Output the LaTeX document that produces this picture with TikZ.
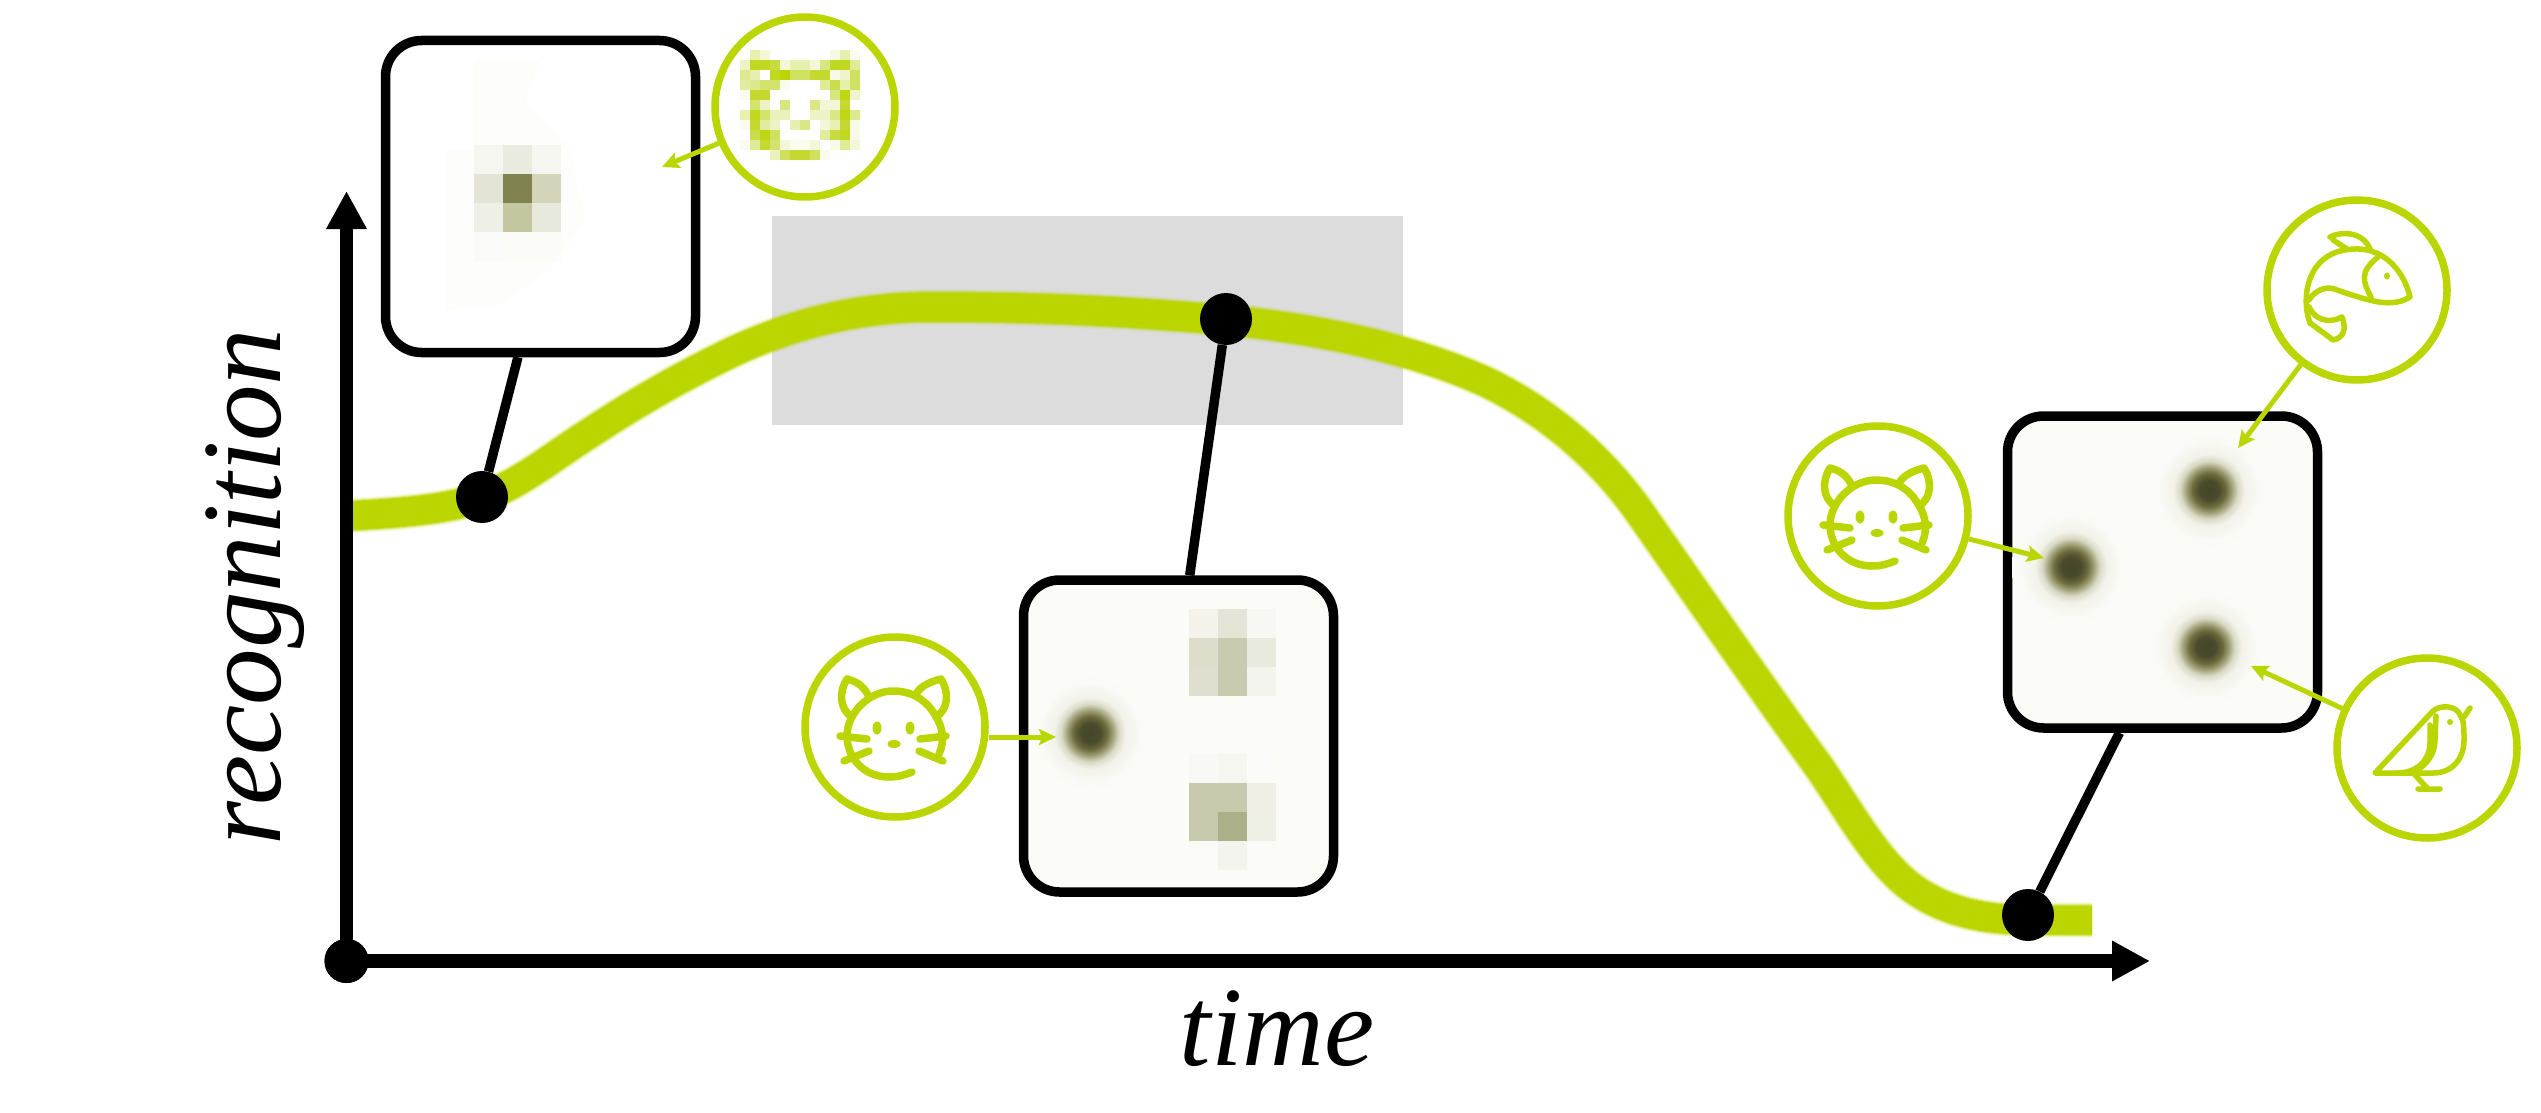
\documentclass[tikz,border=0pt]{standalone}
\usepackage{fontspec}
\setmainfont{Liberation Serif}
\usetikzlibrary{arrows.meta}
\definecolor{curvegreen}{HTML}{BBD500}
\definecolor{panelpaper}{HTML}{FBFBF8}
\definecolor{panelfaint}{HTML}{FDFDFB}
\definecolor{greybar}{HTML}{DCDCDC}
\pgfdeclareradialshading{blobshade}{\pgfpointorigin}{%
  rgb(0bp)=(0.27,0.27,0.16);
  rgb(4bp)=(0.29,0.29,0.172);
  rgb(7bp)=(0.42,0.42,0.24);
  rgb(9.5bp)=(0.63,0.63,0.47);
  rgb(12bp)=(0.85,0.85,0.77);
  rgb(15bp)=(0.95,0.95,0.92);
  rgb(21bp)=(0.98,0.98,0.965);
  rgb(25bp)=(0.984,0.984,0.973)}
\tikzset{
  panelbox/.style={draw=black, line width=9.5pt, rounded corners=36pt, fill=panelpaper,
                   minimum width=310pt, minimum height=312pt, inner sep=0pt},
  tagring/.style={draw=curvegreen, line width=7.5pt, fill=white, circle,
                  minimum size=180pt, inner sep=0pt},
  timedot/.style={fill=black, circle, minimum size=52pt, inner sep=0pt},
  stem/.style={black, line width=9.5pt},
  tagarrow/.style={curvegreen, line width=5pt, -{Stealth[length=17pt, width=16pt, inset=3pt]}},
  axisline/.style={black, line width=13.5pt, -{Triangle[length=38pt, width=38pt]}},
  iconline/.style={curvegreen, line width=7.5pt, line cap=round, line join=round},
  thinicon/.style={iconline, line width=5.5pt},
  axislabel/.style={font=\fontsize{113}{120}\selectfont\itshape, inner sep=0pt, anchor=base},
  cell/.style={fill=cellcolor},
  cat icon/.pic={
    \draw[iconline] (44,27) .. controls (50,14) and (48,0) .. (40,-12)
      .. controls (32,-26) and (18,-36) .. (-2,-36)
      .. controls (-26,-36) and (-48,-14) .. (-48,9)
      .. controls (-48,30) and (-32,50) .. (-6,50)
      .. controls (3,50) and (10,48) .. (17,45);
    \draw[iconline] (-27,-32) .. controls (-32,-42) and (-40,-46) .. (-48,-48)
      .. controls (-56,-36) and (-56,-18) .. (-43,-10);
    \draw[iconline] (21,-33) .. controls (26,-42) and (38,-46) .. (46,-48)
      .. controls (54,-36) and (54,-18) .. (41,-10);
    \fill[curvegreen] (-18,1) ellipse (4.5pt and 6.5pt) (15,1) ellipse (4.5pt and 6.5pt)
      (-1,17) ellipse (6.5pt and 4pt);
    \draw[iconline] (-55,9) -- (-28,12) (25,12) -- (51,9)
      (-26,24) -- (-51,34) (24,24) -- (48,34);
  },
  fish icon/.pic={
    \draw[thinicon] (-27,-53) .. controls (-18,-58) and (5,-60) .. (13,-41);
    \draw[thinicon] (-24,-50) -- (-10,-41);
    \draw[thinicon] (-47,33) .. controls (-56,10) and (-52,-40) .. (-2,-41)
      .. controls (30,-42) and (48,-15) .. (53,7)
      .. controls (35,18) and (15,12) .. (-20,0)
      .. controls (-30,-5) and (-42,0) .. (-48,10);
    \draw[thinicon] (21,-33) .. controls (2,-18) and (6,-8) .. (14,7);
    \draw[thinicon] (-48,17) .. controls (-42,30) and (-28,34) .. (-15,27)
      .. controls (-10,40) and (-14,48) .. (-24,50) .. controls (-32,44) and (-40,38) .. (-47,33);
    \fill[curvegreen] (30,-14) ellipse (3pt and 3.5pt);
  },
  bird icon/.pic={
    \draw[thinicon] (-52,25) -- (6,-37) .. controls (14,-44) and (30,-42) .. (33,-33)
      .. controls (37,-28) and (37,-20) .. (37,-8)
      .. controls (37,10) and (26,25) .. (6,25) -- cycle;
    \draw[thinicon] (3,-23) -- (3,-5) .. controls (3,10) and (-8,25) .. (-30,25);
    \draw[thinicon] (9,-32) -- (8,-8) .. controls (8,6) and (0,16) .. (-12,24);
    \draw[thinicon] (37,-31) -- (43,-40);
    \draw[thinicon] (-12,27) -- (1,41) (-9,41) -- (13,41);
    \fill[curvegreen] (23,-26) circle (3pt);
  }
}

\begin{document}
\begin{tikzpicture}[x=1pt, y=-1pt]
  \useasboundingbox (0,0) rectangle (2541,1113);

  % grey band behind the curve
  \fill[greybar] (772,216) rectangle (1403,425);

  % recognition curve, soft edge first
  \foreach \w/\o in {36/0.1, 33.5/0.2, 31.5/0.4, 29.5/0.7, 27.5/1}
    \draw[curvegreen, line width=\w pt, opacity=\o] (346,516)
      .. controls (400,513) and (445,510) .. (483,497)
      .. controls (520,484) and (555,455) .. (590,433)
      .. controls (640,400) and (680,378) .. (720,358)
      .. controls (780,328) and (850,307) .. (930,307)
      .. controls (1050,307) and (1130,312) .. (1226,320)
      .. controls (1330,330) and (1420,352) .. (1486,382)
      .. controls (1540,408) and (1595,450) .. (1638,510)
      .. controls (1680,570) and (1770,700) .. (1819,767)
      .. controls (1845,805) and (1870,850) .. (1900,878)
      .. controls (1935,910) and (1980,920) .. (2030,920) -- (2092,920);

  % axes
  \node[timedot, minimum size=44pt] (origin) at (346.5,961) {};
  \draw[axisline] (origin.center) -- (346.5,191);
  \draw[axisline] (origin.center) -- (2150,961);
  \node[timedot, minimum size=44pt] at (origin.center) {};
  \node[axislabel] (timelabel) at (1277,1065) {time};
  \node[axislabel, rotate=90] (recoglabel) at (280,587) {recognition};

  % dots on the curve
  \node[timedot] (dotearly) at (482,497) {};
  \node[timedot] (dotmid) at (1226,319) {};
  \node[timedot] (dotlate) at (2028,915) {};

  % panels
  \node[panelbox, fill=white] (panelearly) at (540.5,196.5) {};
  \node[panelbox] (panelmid) at (1178.5,736) {};
  \node[panelbox] (panellate) at (2162.5,572) {};

  \draw[stem] (dotearly) -- (panelearly.262);
  \draw[stem] (dotmid) -- (panelmid.86.6);
  \draw[stem] (dotlate) -- (panellate.255.3);

  % early panel: one coarse spot
  \fill[panelfaint] (474,60) -- (540,60) -- (525,100) -- (570,150) -- (585,220)
    -- (550,270) -- (500,305) -- (446,310) -- (446,150) -- (474,150) -- cycle;
  \foreach \cx/\cy/\cc in {
    0/0/F5F6F0, 1/0/E9EBDF, 2/0/F5F6F0,
    0/1/E3E4D6, 1/1/808250, 2/1/D3D4BA,
    0/2/EEEFE6, 1/2/C4C6A0, 2/2/E8E9DD,
    0/3/FAFAF8, 1/3/FBFBF8, 2/3/FBFBF8}
  {
    \definecolor{cellcolor}{HTML}{\cc}
    \fill[cell] ({474+29*\cx},{145+29*\cy}) rectangle +(29,29);
  }

  % middle panel: two coarse spots and one sharp
  \foreach \cx/\cy/\cc in {
    0/0/F3F3EC, 1/0/E4E5D6, 2/0/F7F8F3,
    0/1/DCDDCB, 1/1/C9CBAE, 2/1/E9EADE,
    0/2/DEDFCE, 1/2/C9CBAE, 2/2/F3F4EE,
    0/5/F8F8F4, 1/5/F5F6F0, 2/5/FBFBF9,
    0/6/C8CAAD, 1/6/C8CAAD, 2/6/EFEFE6,
    0/7/C8CAAD, 1/7/ADAF88, 2/7/EEEFE5,
    0/8/FAFAF7, 1/8/F3F4EE, 2/8/FAFAF7}
  {
    \definecolor{cellcolor}{HTML}{\cc}
    \fill[cell] ({1189+29*\cx},{609+29*\cy}) rectangle +(29,29);
  }
  \shade[shading=blobshade] (1090,733) circle (60pt);

  % late panel: three sharp spots
  \shade[shading=blobshade] (2209,490) circle (60pt);
  \shade[shading=blobshade] (2071,567) circle (60pt);
  \shade[shading=blobshade] (2206,647) circle (60pt);

  % tags
  \node[tagring] (tagpixel) at (805,107) {};
  \node[tagring] (tagcatmid) at (895,727) {};
  \node[tagring] (tagcatlate) at (1878,516) {};
  \node[tagring] (tagfish) at (2357,290) {};
  \node[tagring] (tagbird) at (2427,748) {};

  % blocky cat
  \foreach \cx/\cy/\cc in {
    1/0/E8F0B0, 2/0/F3F7D8, 9/0/F6F9E4, 10/0/E6EFAC, 11/0/FAFBEE,
    0/1/EDF3C5, 1/1/C0D820, 2/1/C0D820, 3/1/C8DC40, 4/1/F3F7D8, 5/1/E8F0B0, 6/1/E8F0B0,
    7/1/F3F7D8, 8/1/D8E680, 9/1/C0D820, 10/1/C0D820, 11/1/E0EB96,
    0/2/DEE98E, 1/2/E6EFAC, 3/2/C0D820, 4/2/BBD500, 5/2/D0E160, 6/2/D0E160, 7/2/C4D830,
    8/2/C4D830, 9/2/F8FAE8, 10/2/EFF4CC, 11/2/CFE05E,
    0/3/E2EC9E, 1/3/DDE88C, 2/3/D4E36C, 3/3/D4E36C, 4/3/F9FBEC, 8/3/E0EB96, 9/3/CADD4C,
    10/3/E6EFAC, 11/3/D0E160,
    0/4/FAFBEE, 1/4/C4D830, 2/4/C4D830, 9/4/D8E680, 10/4/BFD615, 11/4/EFF4CC,
    1/5/D4E36C, 2/5/EDF3C5, 4/5/D8E680, 7/5/DAE782, 8/5/F3F7D8, 9/5/F3F7D8, 10/5/C4D830,
    0/6/E8F0B0, 1/6/C0D820, 2/6/D4E36C, 3/6/EAF1BA, 4/6/EAF1BA, 7/6/EDF3C5, 8/6/EDF3C5,
    9/6/DAE782, 10/6/BFD615, 11/6/DEE98E,
    0/7/FAFBEE, 1/7/C4D830, 2/7/E2EC9E, 3/7/EDF3C5, 5/7/E6EFAC, 6/7/DAE782, 8/7/F3F7D8,
    9/7/E8F0B0, 10/7/C4D830, 11/7/F8FAE8,
    1/8/CADD4C, 2/8/BFD615, 3/8/D0E160, 8/8/E2EC9E, 9/8/C8DC40, 10/8/C0D820, 11/8/F8FAE8,
    0/9/FAFBEE, 1/9/E0EB96, 2/9/C4D830, 3/9/D4E36C, 4/9/F3F7D8, 5/9/F9FBEC, 6/9/F9FBEC,
    7/9/F3F7D8, 9/9/F8FAE8, 10/9/E0EB96, 11/9/F3F7D8,
    3/10/EAF1BA, 4/10/CFE05E, 5/10/C4D830, 6/10/C4D830, 7/10/D0E160, 8/10/FAFBEE}
  {
    \definecolor{cellcolor}{HTML}{\cc}
    \fill[cell] ({740+10*\cx},{50+10*\cy}) rectangle +(10,10);
  }

  \pic at (tagcatmid) {cat icon};
  \pic at (tagcatlate) {cat icon};
  \pic at (tagfish) {fish icon};
  \pic at (tagbird) {bird icon};

  % arrows from the tags
  \coordinate (aimpixel) at (662,167);
  \coordinate (aimcatmid) at (1056,737);
  \coordinate (aimcatlate) at (2044,558);
  \coordinate (aimfish) at (2238,448);
  \coordinate (aimbird) at (2251,666);
  \draw[tagarrow] (tagpixel) -- (aimpixel);
  \draw[tagarrow] (tagcatmid.east |- aimcatmid) -- (aimcatmid);
  \draw[tagarrow] (tagcatlate) -- (aimcatlate);
  \draw[tagarrow] (tagfish) -- (aimfish);
  \draw[tagarrow] (tagbird) -- (aimbird);
\end{tikzpicture}
\end{document}
